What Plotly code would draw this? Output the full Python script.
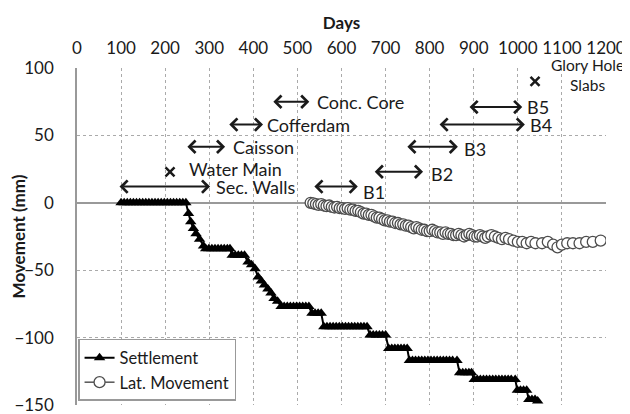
import plotly.graph_objects as go

# ---------------- data ----------------
settle_days = [100, 107, 114, 121, 128, 135, 142, 149, 156, 163, 170, 177, 184, 191, 198, 205, 212, 219, 226, 233, 240, 247,
               253, 258, 264, 270, 278, 287,
               292, 299, 306, 313, 320, 327, 334, 341, 347,
               352, 359, 366, 373, 380,
               388, 396, 404, 411, 418, 425, 433, 440, 447, 455,
               463, 470, 477, 484, 491, 498, 505, 512, 519, 526,
               533, 540, 547, 554,
               560, 567, 574, 581, 588, 595, 602, 609, 616, 623, 630, 637, 644, 651, 658,
               665, 672, 679, 686, 693, 700,
               707, 714, 721, 728, 735, 742, 749,
               754, 761, 768, 775, 782, 789, 796, 803, 810, 817, 824, 831, 838, 845, 852, 862,
               868, 875, 882, 889, 895,
               901, 908, 915, 922, 929, 936, 943, 950, 957, 964, 971, 978, 985, 994,
               999, 1006, 1013, 1020,
               1025, 1032, 1039, 1045]
settle_mm = [0, 0, 0, 0, 0, 0, 0, 0, 0, 0, 0, 0, 0, 0, 0, 0, 0, 0, 0, 0, 0, 0,
             -8, -14, -19, -23, -27, -32,
             -34, -34, -34, -34, -34, -34, -34, -34, -34,
             -39, -39, -39, -39, -39,
             -44, -46, -49, -55, -58, -61, -64, -67, -71, -73,
             -77, -77, -77, -77, -77, -77, -77, -77, -77, -77,
             -82, -82, -82, -82,
             -92, -92, -92, -92, -92, -92, -92, -92, -92, -92, -92, -92, -92, -92, -92,
             -98, -98, -98, -98, -98, -98,
             -108, -108, -108, -108, -108, -108, -108,
             -117, -117, -117, -117, -117, -117, -117, -117, -117, -117, -117, -117, -117, -117, -117, -117,
             -126, -126, -126, -126, -126,
             -131, -131, -131, -131, -131, -131, -131, -131, -131, -131, -131, -131, -131, -131,
             -139, -139, -139, -139,
             -146, -146, -146, -147]

lat_days = [530, 536, 542, 548, 554, 560, 566, 572, 578, 584, 590, 596, 602, 608, 614, 620, 626, 632, 638, 644,
            650, 656, 662, 668, 674, 680, 686, 692, 698, 704, 710, 716, 722, 728, 734, 740, 746, 752, 758, 764,
            770, 776, 782, 788, 794, 800, 806, 812, 818, 824, 830, 836, 842, 848, 854, 860, 866, 872, 878, 884,
            890, 896, 902, 908, 914, 920, 926, 932, 940, 948, 956, 964, 972, 980, 990, 1000, 1010, 1020, 1030,
            1040, 1055, 1068, 1080, 1090, 1100, 1112, 1125, 1140, 1155, 1170, 1188]
lat_mm = [0, -0.5, -1, -1.5, -1, -2, -2.5, -2, -3, -3.5, -3, -4, -4, -4.5, -4, -5, -5, -6, -6, -7,
          -8, -8, -9, -9, -10, -11, -11, -12, -13, -13, -14, -14, -15, -15, -16, -16, -17, -17, -18, -19,
          -18, -19, -20, -20, -21, -21, -20, -21, -22, -22, -23, -22, -23, -23, -24, -24, -23, -24, -25, -24,
          -23, -24, -25, -25, -24, -25, -26, -25, -24, -25, -26, -27, -26, -27, -28, -29, -29, -30, -29,
          -30, -30, -29, -31, -33, -31, -30, -30, -30, -29, -29, -28]

# activity spans: label, start day, end day, level (mm), label x (day), label y (mm)
span_labels = ["Sec. Walls", "Caisson", "Cofferdam", "Conc. Core", "B1", "B2", "B3", "B4", "B5"]
span_start = [93, 247, 342, 442, 535, 672, 746, 819, 887]
span_end = [302, 336, 422, 527, 637, 785, 864, 1016, 1010]
span_level = [12, 41.6, 58, 75, 12, 23, 41.6, 58, 71]
span_label_x = [310, 350, 426, 540, 645, 798, 873, 1022, 1016]
span_label_y = [12, 41.6, 58, 75, 8, 21, 40, 58, 71]

# single events
event_labels = ["Water Main", "Glory Hole<br>Slabs"]
event_days = [211, 1039]
event_level = [23, 90]
event_label_x = [250, 1157]
event_label_y = [25, 94.5]
event_label_anchor = ["left", "center"]

x_ticks = [0, 100, 200, 300, 400, 500, 600, 700, 800, 900, 1000, 1100, 1200]
y_ticks = [100, 50, 0, -50, -100, -150]

FONT = "Lato"
INK = "#1a1a1a"

fig = go.Figure()

fig.add_trace(go.Scatter(
    x=settle_days, y=settle_mm, name="Settlement", mode="lines+markers",
    line=dict(color="black", width=2),
    marker=dict(symbol="triangle-up", size=10, color="black"),
))
fig.add_trace(go.Scatter(
    x=lat_days, y=lat_mm, name="Lat. Movement", mode="lines+markers",
    line=dict(color="black", width=1),
    marker=dict(symbol="circle", size=11, color="white", line=dict(color="#4d4d4d", width=1.3)),
))
fig.add_trace(go.Scatter(
    x=event_days, y=event_level, mode="markers", showlegend=False,
    marker=dict(symbol="x-thin", size=9, line=dict(color=INK, width=2.5)),
))

annotations = []
for lab, s, e, lv, lx, ly in zip(span_labels, span_start, span_end, span_level, span_label_x, span_label_y):
    annotations.append(dict(
        x=e, y=lv, ax=s, ay=lv, xref="x", yref="y", axref="x", ayref="y",
        text="", showarrow=True, arrowside="end+start", arrowhead=4,
        arrowsize=1.2, arrowwidth=2, arrowcolor=INK,
    ))
    annotations.append(dict(
        x=lx, y=ly, xref="x", yref="y", text=lab, showarrow=False,
        xanchor="left", yanchor="middle", font=dict(family=FONT, size=18, color=INK),
    ))
for lab, lx, ly, anc in zip(event_labels, event_label_x, event_label_y, event_label_anchor):
    annotations.append(dict(
        x=lx, y=ly, xref="x", yref="y", text=lab, showarrow=False,
        xanchor=anc, yanchor="middle", align="center",
        font=dict(family=FONT, size=18 if anc == "left" else 15.5, color=INK),
    ))

# The page body has an 8px default margin, so the figure is sized to fit the
# 630x414 window with the plot area at the reference's pixel position.
fig.update_layout(
    width=622, height=406,
    margin=dict(l=69, r=24, t=60, b=9, autoexpand=False),
    paper_bgcolor="white", plot_bgcolor="white",
    font=dict(family=FONT, size=17, color=INK),
    showlegend=True,
    legend=dict(
        x=0.002, y=0.012, xanchor="left", yanchor="bottom",
        bgcolor="white", bordercolor="#999999", borderwidth=1.5,
        font=dict(family=FONT, size=16.5, color=INK),
        tracegroupgap=0, itemwidth=30,
    ),
    annotations=annotations,
)

fig.update_xaxes(
    range=[0, 1200], side="top", tickvals=x_ticks, automargin=False,
    title=dict(text="<b>Days</b>", font=dict(family=FONT, size=17, color=INK), standoff=2),
    showgrid=True, gridcolor="#aaaaaa", griddash="dot", gridwidth=1,
    zeroline=False, showline=False, ticks="", ticklabelstandoff=10,
    ticklabeloverflow="allow",
    tickfont=dict(family=FONT, size=17, color=INK),
)
fig.update_yaxes(
    range=[-150, 100], tickvals=y_ticks, automargin=False,
    title=dict(text="<b>Movement (mm)</b>", font=dict(family=FONT, size=17, color=INK), standoff=6),
    showgrid=True, gridcolor="#aaaaaa", griddash="dot", gridwidth=1,
    zeroline=True, zerolinecolor="#999999", zerolinewidth=1.5,
    showline=True, linecolor="#999999", linewidth=1.5,
    ticks="", ticklabelstandoff=18, ticklabeloverflow="allow",
    tickfont=dict(family=FONT, size=17, color=INK),
)

fig.write_html("out.html")
